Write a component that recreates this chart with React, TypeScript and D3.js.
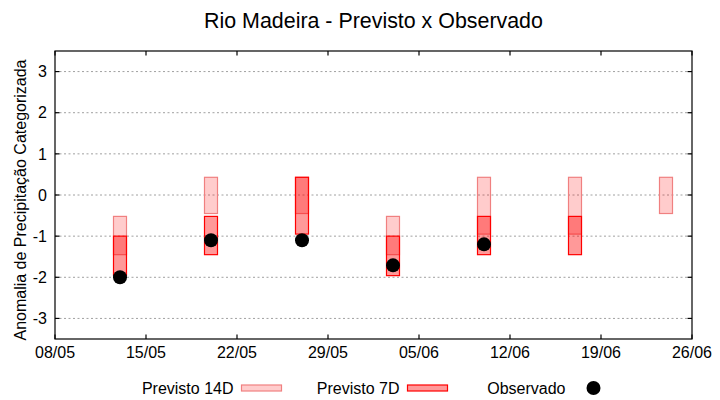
import { useEffect, useRef } from 'react';
import * as d3 from 'd3';

// Forecast weeks (center of each bar)
const weeks = ['2024-05-13', '2024-05-20', '2024-05-27', '2024-06-03', '2024-06-10', '2024-06-17', '2024-06-24'];

// Previsto 14D (top / bottom of box)
const prev14Top = [-0.52, 0.43, 0.43, -0.52, 0.43, 0.43, 0.43];
const prev14Bottom = [-1.45, -0.45, -0.45, -1.45, -0.95, -0.95, -0.45];

// Previsto 7D (top / bottom of box)
const prev7Top: (number | null)[] = [-1.0, -0.52, 0.43, -1.0, -0.52, -0.52, null];
const prev7Bottom: (number | null)[] = [-1.95, -1.45, -0.95, -1.96, -1.45, -1.45, null];

// Observado
const observed: (number | null)[] = [-2.0, -1.1, -1.1, -1.71, -1.2, null, null];

const xTicks = ['2024-05-08', '2024-05-15', '2024-05-22', '2024-05-29', '2024-06-05', '2024-06-12', '2024-06-19', '2024-06-26'];
const yTicks = [-3, -2, -1, 0, 1, 2, 3];

const FONT = '"Liberation Sans", Arial, sans-serif';
const DAY = 24 * 3600 * 1000;

const App = () => {
    const svgRef = useRef<SVGSVGElement>(null);

    useEffect(() => {
        document.body.style.margin = '0';
        if (!svgRef.current) return;

        d3.select(svgRef.current).selectAll('*').remove();

        const width = 720;
        const height = 400;
        const margin = { top: 51, right: 28, bottom: 61, left: 55 };
        const plotW = width - margin.left - margin.right;
        const plotH = height - margin.top - margin.bottom;

        const svg = d3.select(svgRef.current)
            .attr('width', width)
            .attr('height', height)
            .style('font-family', FONT);

        const g = svg.append('g')
            .attr('transform', `translate(${margin.left},${margin.top})`);

        const parse = (s: string) => new Date(s + 'T00:00:00Z');

        const x = d3.scaleUtc()
            .domain([parse(xTicks[0]), parse(xTicks[xTicks.length - 1])])
            .range([0, plotW]);

        const y = d3.scaleLinear()
            .domain([-3.5, 3.5])
            .range([plotH, 0]);

        // Grid lines
        g.append('g')
            .selectAll('line')
            .data(yTicks)
            .enter().append('line')
            .attr('x1', 0)
            .attr('x2', plotW)
            .attr('y1', d => y(d))
            .attr('y2', d => y(d))
            .attr('stroke', '#a0a0a0')
            .attr('stroke-width', 1)
            .attr('stroke-dasharray', '2,2.5');

        // Bars
        const half = (d: Date, sign: number) => x(new Date(d.getTime() + sign * DAY / 2));

        weeks.forEach((w, i) => {
            const d = parse(w);
            const x0 = half(d, -1);
            const x1 = half(d, 1);
            g.append('rect')
                .attr('x', x0)
                .attr('width', x1 - x0)
                .attr('y', y(prev14Top[i]))
                .attr('height', y(prev14Bottom[i]) - y(prev14Top[i]))
                .attr('fill', 'rgba(255, 0, 0, 0.2)')
                .attr('stroke', '#f08080')
                .attr('stroke-width', 1.2);
        });

        weeks.forEach((w, i) => {
            const top = prev7Top[i];
            const bot = prev7Bottom[i];
            if (top === null || bot === null) return;
            const d = parse(w);
            const x0 = half(d, -1);
            const x1 = half(d, 1);
            g.append('rect')
                .attr('x', x0)
                .attr('width', x1 - x0)
                .attr('y', y(top))
                .attr('height', y(bot) - y(top))
                .attr('fill', 'rgba(255, 0, 0, 0.4)')
                .attr('stroke', '#ff0000')
                .attr('stroke-width', 1.2);
        });

        // Observed dots
        weeks.forEach((w, i) => {
            const v = observed[i];
            if (v === null) return;
            g.append('circle')
                .attr('cx', x(parse(w)))
                .attr('cy', y(v))
                .attr('r', 7)
                .attr('fill', '#000');
        });

        // Frame
        g.append('rect')
            .attr('x', 0)
            .attr('y', 0)
            .attr('width', plotW)
            .attr('height', plotH)
            .attr('fill', 'none')
            .attr('stroke', '#000')
            .attr('stroke-width', 1.2);

        const tickLen = 4.5;

        // Y ticks (mirrored) + labels
        yTicks.forEach(t => {
            g.append('line')
                .attr('x1', 0).attr('x2', tickLen)
                .attr('y1', y(t)).attr('y2', y(t))
                .attr('stroke', '#000').attr('stroke-width', 1.2);
            g.append('line')
                .attr('x1', plotW - tickLen).attr('x2', plotW)
                .attr('y1', y(t)).attr('y2', y(t))
                .attr('stroke', '#000').attr('stroke-width', 1.2);
            g.append('text')
                .attr('x', -8)
                .attr('y', y(t))
                .attr('dy', '0.36em')
                .attr('text-anchor', 'end')
                .attr('font-size', 16)
                .attr('fill', '#000')
                .text(String(t));
        });

        // X ticks (mirrored) + labels
        const fmt = d3.utcFormat('%d/%m');
        xTicks.forEach(s => {
            const xv = x(parse(s));
            g.append('line')
                .attr('x1', xv).attr('x2', xv)
                .attr('y1', plotH).attr('y2', plotH - tickLen)
                .attr('stroke', '#000').attr('stroke-width', 1.2);
            g.append('line')
                .attr('x1', xv).attr('x2', xv)
                .attr('y1', 0).attr('y2', tickLen)
                .attr('stroke', '#000').attr('stroke-width', 1.2);
            g.append('text')
                .attr('x', xv)
                .attr('y', plotH + 19)
                .attr('text-anchor', 'middle')
                .attr('font-size', 16)
                .attr('fill', '#000')
                .text(fmt(parse(s)));
        });

        // Title
        svg.append('text')
            .attr('x', margin.left + plotW / 2)
            .attr('y', 28)
            .attr('text-anchor', 'middle')
            .attr('font-size', 21.4)
            .attr('fill', '#000')
            .text('Rio Madeira - Previsto x Observado');

        // Y axis label
        svg.append('text')
            .attr('transform', `translate(26,200) rotate(-90)`)
            .attr('text-anchor', 'middle')
            .attr('font-size', 16)
            .attr('fill', '#000')
            .text('Anomalia de Precipitação Categorizada');

        // Legend
        const legendY = 388;
        const legend = [
            { label: 'Previsto 14D', fill: 'rgba(255, 0, 0, 0.2)', stroke: '#f08080', dot: false },
            { label: 'Previsto 7D', fill: 'rgba(255, 0, 0, 0.4)', stroke: '#ff0000', dot: false },
            { label: 'Observado', fill: '#000', stroke: 'none', dot: true }
        ];
        legend.forEach((item, i) => {
            const cx = 261.5 + i * 166;
            svg.append('text')
                .attr('x', cx - 28)
                .attr('y', legendY)
                .attr('dy', '0.36em')
                .attr('text-anchor', 'end')
                .attr('font-size', 16)
                .attr('fill', '#000')
                .text(item.label);
            if (item.dot) {
                svg.append('circle')
                    .attr('cx', cx)
                    .attr('cy', legendY)
                    .attr('r', 7)
                    .attr('fill', item.fill);
            } else {
                svg.append('rect')
                    .attr('x', cx - 20)
                    .attr('y', legendY - 3)
                    .attr('width', 40)
                    .attr('height', 6)
                    .attr('fill', item.fill)
                    .attr('stroke', item.stroke)
                    .attr('stroke-width', 1.2);
            }
        });
    }, []);

    return (
        <div>
            <svg ref={svgRef} style={{ display: 'block' }}></svg>
        </div>
    );
};

export default App;
